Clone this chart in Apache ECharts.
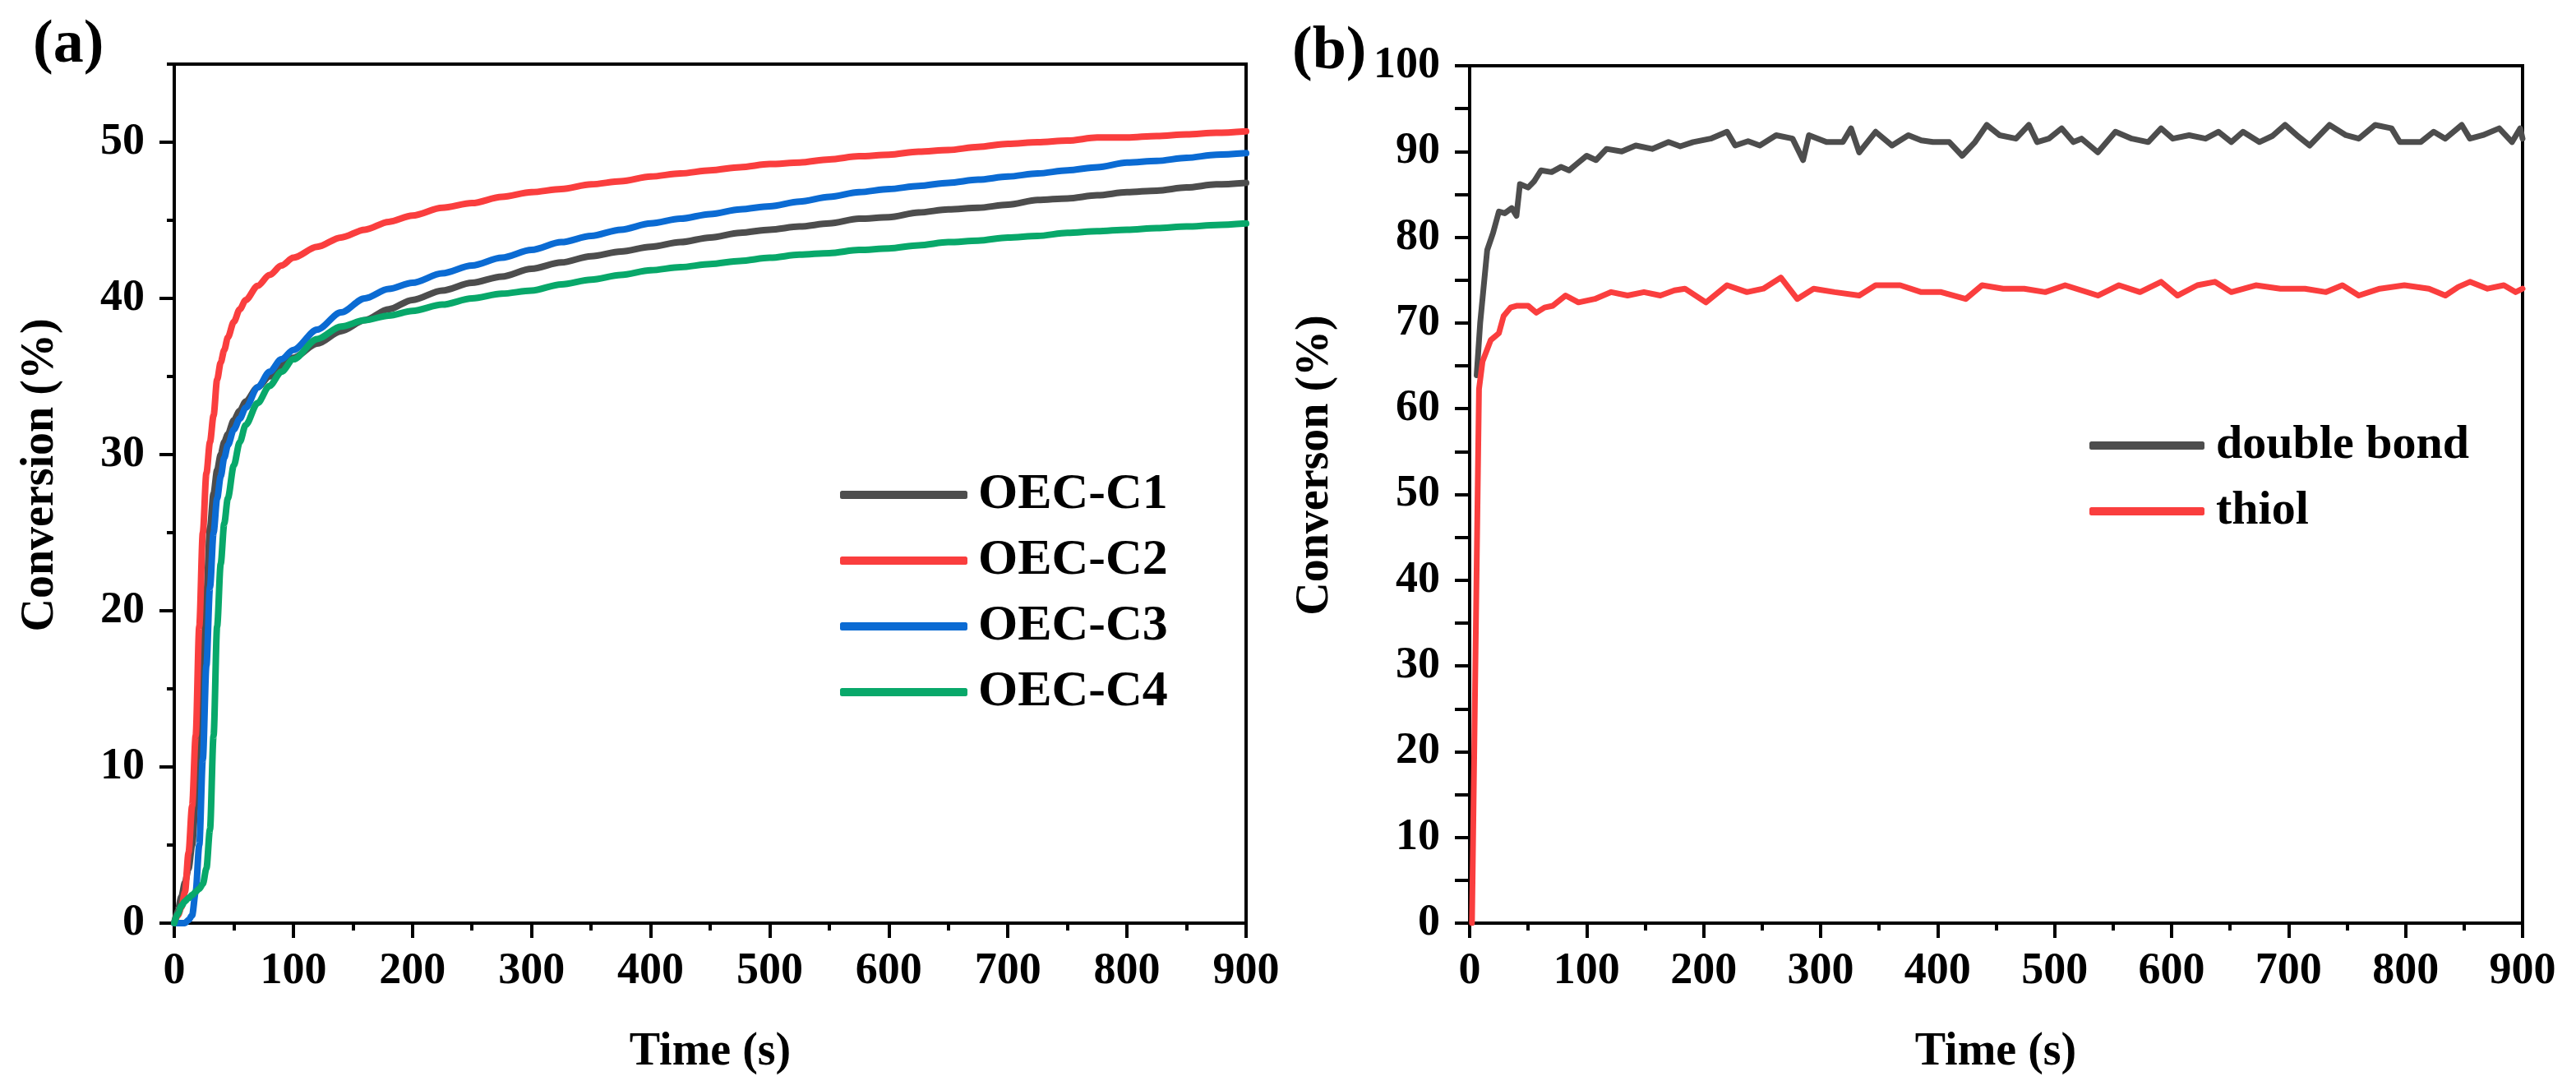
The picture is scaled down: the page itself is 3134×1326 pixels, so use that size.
<!DOCTYPE html>
<html>
<head>
<meta charset="utf-8">
<title>Conversion vs time</title>
<script src="https://cdn.jsdelivr.net/npm/echarts@6/dist/echarts.min.js"></script>
<style>
    html, body { margin: 0; padding: 0; background: #fff; }
    #main { width: 3134px; height: 1326px; }
</style>
</head>
<body>
<div id="main"></div>
<script>
// (a) time points shared by the four OEC curves
var timeA = [0, 3, 6, 9, 12, 15, 18, 21, 24, 27, 30, 33, 36, 39, 42, 45, 50, 55, 60, 70, 80, 90, 100,
    120, 140, 160, 180, 200, 225, 250, 275, 300, 325, 350, 375, 400, 425, 450, 475, 500, 525, 550,
    575, 600, 625, 650, 675, 700, 725, 750, 775, 800, 825, 850, 875, 900];

var oecC1 = [0, 0.8, 1.7, 2.6, 3.5, 5.0, 7.8, 11.5, 16.5, 21.0, 25.3, 27.5, 29.0, 30.0, 30.8, 31.3, 32.2, 32.8, 33.4, 34.3, 35.0, 35.7, 36.2,
    37.1, 37.9, 38.6, 39.3, 39.9, 40.5, 41.0, 41.4, 41.9, 42.3, 42.7, 43.0, 43.3, 43.6, 43.9, 44.2, 44.4, 44.6, 44.8,
    45.1, 45.2, 45.5, 45.7, 45.8, 46.0, 46.3, 46.4, 46.6, 46.8, 46.9, 47.1, 47.3, 47.4];
var oecC2 = [0, 0.5, 1.0, 2.0, 4.5, 7.5, 12.0, 19.0, 25.0, 28.8, 30.8, 32.5, 34.8, 35.9, 36.7, 37.5, 38.5, 39.3, 39.9, 40.8, 41.5, 42.1, 42.6,
    43.3, 43.9, 44.4, 44.9, 45.3, 45.8, 46.1, 46.5, 46.8, 47.0, 47.3, 47.5, 47.8, 48.0, 48.2, 48.4, 48.6, 48.7, 48.9,
    49.1, 49.2, 49.4, 49.5, 49.7, 49.9, 50.0, 50.1, 50.3, 50.3, 50.4, 50.5, 50.6, 50.7];
var oecC3 = [0, 0, 0, 0, 0.2, 0.5, 2.0, 5.0, 10.5, 16.5, 21.5, 25.0, 27.2, 28.6, 29.8, 30.6, 31.6, 32.3, 33.0, 34.3, 35.3, 36.1, 36.7,
    38.0, 39.1, 40.0, 40.6, 41.0, 41.6, 42.1, 42.6, 43.1, 43.6, 44.0, 44.4, 44.8, 45.1, 45.4, 45.7, 45.9, 46.2, 46.5,
    46.8, 47.0, 47.2, 47.4, 47.6, 47.8, 48.0, 48.2, 48.4, 48.7, 48.8, 49.0, 49.2, 49.3];
var oecC4 = [0, 0.6, 1.1, 1.4, 1.6, 1.8, 2.0, 2.2, 2.5, 3.5, 6.0, 12.0, 19.0, 23.0, 25.6, 27.2, 29.3, 30.8, 31.9, 33.3, 34.4, 35.3, 36.1,
    37.4, 38.2, 38.6, 38.9, 39.2, 39.6, 40.0, 40.3, 40.5, 40.9, 41.2, 41.5, 41.8, 42.0, 42.2, 42.4, 42.6, 42.8, 42.9,
    43.1, 43.2, 43.4, 43.6, 43.7, 43.9, 44.0, 44.2, 44.3, 44.4, 44.5, 44.6, 44.7, 44.8];

// (b) double bond and thiol curves
var timeDouble = [6, 9, 15, 20, 25, 30, 36, 40, 43, 50, 55, 61, 70, 78, 85, 92, 100, 108, 117, 130,
    142, 156, 170, 180, 191, 206, 220, 227, 238, 248, 262, 276, 285, 290, 305, 319, 326, 333, 347, 361,
    375, 386, 396, 410, 421, 432, 442, 453, 467, 478, 485, 495, 506, 516, 523, 537, 552, 566, 580, 591,
    601, 615, 629, 640, 651, 661, 675, 686, 697, 707, 718, 735, 749, 760, 774, 788, 795, 813, 824, 834,
    848, 855, 866, 880, 891, 898, 900];
var doubleBond = [63.9, 70.0, 78.5, 80.5, 83.0, 82.8, 83.4, 82.5, 86.2, 85.8, 86.5, 87.8, 87.6, 88.2, 87.8, 88.6, 89.5, 89.0, 90.3, 90.0,
    90.7, 90.3, 91.1, 90.6, 91.1, 91.5, 92.3, 90.7, 91.2, 90.7, 91.9, 91.5, 89.0, 91.9, 91.1, 91.1, 92.7, 89.9, 92.3, 90.7,
    91.9, 91.3, 91.1, 91.1, 89.5, 91.1, 93.1, 91.9, 91.5, 93.1, 91.1, 91.5, 92.7, 91.1, 91.5, 89.9, 92.3, 91.5, 91.1, 92.7,
    91.5, 91.9, 91.5, 92.3, 91.1, 92.3, 91.1, 91.8, 93.1, 91.9, 90.7, 93.1, 91.9, 91.5, 93.1, 92.7, 91.1, 91.1, 92.3, 91.5,
    93.1, 91.5, 91.9, 92.7, 91.1, 92.7, 91.5];

var timeThiol = [2, 8, 11, 18, 25, 29, 35, 40, 50, 57, 64, 71, 82, 93, 107, 121, 135, 149, 163, 175,
    184, 202, 220, 237, 251, 266, 280, 294, 312, 333, 347, 368, 386, 403, 424, 438, 456, 474, 492, 509,
    523, 537, 555, 573, 591, 605, 622, 637, 651, 672, 693, 714, 732, 746, 760, 778, 799, 820, 834, 845,
    855, 870, 884, 894, 900];
var thiol = [0, 62.3, 65.5, 68.0, 68.8, 70.8, 71.8, 72.0, 72.0, 71.2, 71.8, 72.0, 73.2, 72.4, 72.8, 73.6, 73.2, 73.6, 73.2, 73.8,
    74.0, 72.4, 74.4, 73.6, 74.0, 75.3, 72.8, 74.0, 73.6, 73.2, 74.4, 74.4, 73.6, 73.6, 72.8, 74.4, 74.0, 74.0, 73.6, 74.4,
    73.8, 73.2, 74.4, 73.6, 74.8, 73.2, 74.4, 74.8, 73.6, 74.4, 74.0, 74.0, 73.6, 74.4, 73.2, 74.0, 74.4, 74.0, 73.2, 74.2,
    74.8, 74.0, 74.4, 73.6, 74.0];

// tick labels
var yTicksA = [0, 10, 20, 30, 40, 50];
var namesA = ['OEC-C1', 'OEC-C2', 'OEC-C3', 'OEC-C4'];
var namesB = ['double bond', 'thiol'];

var FONT = "'Liberation Serif', 'Times New Roman', serif";

function pairs(xs, ys) {
    var out = [];
    for (var i = 0; i < xs.length; i++) {
        out.push([xs[i], ys[i]]);
    }
    return out;
}

function xAxisFor(gi) {
    return {
        gridIndex: gi,
        type: 'value',
        min: 0,
        max: 900,
        interval: 100,
        axisLine: { show: true, onZero: false, lineStyle: { color: '#000', width: 4 } },
        axisTick: { show: true, length: 18, lineStyle: { color: '#000', width: 4 } },
        minorTick: { show: true, splitNumber: 2, length: 9, lineStyle: { color: '#000', width: 4 } },
        axisLabel: { margin: 32, fontFamily: FONT, fontWeight: 'bold', fontSize: 54, color: '#000' },
        splitLine: { show: false }
    };
}

function lineSeries(name, xi, yi, data, color, width, smooth) {
    return {
        name: name,
        type: 'line',
        xAxisIndex: xi,
        yAxisIndex: yi,
        data: data,
        color: color,
        symbol: 'none',
        showSymbol: false,
        smooth: smooth,
        smoothMonotone: 'x',
        lineStyle: { width: width, color: color, cap: 'round', join: 'round' }
    };
}

// axis titles as plain text elements
function axisTitle(text, x, y, rot) {
    return {
        type: 'text',
        x: x,
        y: y,
        rotation: rot,
        style: {
            text: text,
            fontFamily: FONT,
            fontWeight: 'bold',
            fontSize: 56,
            fill: '#000',
            align: 'center',
            verticalAlign: 'middle',
            textAlign: 'center',
            textVerticalAlign: 'middle'
        }
    };
}

var chart = echarts.init(document.getElementById('main'));

var option = {
    animation: false,
    backgroundColor: '#fff',
    title: [
        { text: '(a)', left: 35, top: 14, textStyle: { fontFamily: FONT, fontWeight: 'bold', fontSize: 74, color: '#000' } },
        { text: '(b)', left: 1567, top: 22, textStyle: { fontFamily: FONT, fontWeight: 'bold', fontSize: 74, color: '#000' } }
    ],
    graphic: [
        axisTitle('Conversion (%)', 50, 578, Math.PI / 2),
        axisTitle('Converson (%)', 1601, 566, Math.PI / 2),
        axisTitle('Time (s)', 864, 1281, 0),
        axisTitle('Time (s)', 2428, 1281, 0)
    ],
    grid: [
        { left: 212, right: 1618, top: 78, bottom: 203, show: true, borderColor: '#000', borderWidth: 4, backgroundColor: 'transparent' },
        { left: 1788, right: 65, top: 80, bottom: 203, show: true, borderColor: '#000', borderWidth: 4, backgroundColor: 'transparent' }
    ],
    legend: [
        {
            data: namesA,
            orient: 'vertical',
            left: 1017,
            top: 562,
            icon: 'roundRect',
            itemWidth: 155,
            itemHeight: 10,
            itemGap: 10,
            textStyle: { fontFamily: FONT, fontWeight: 'bold', fontSize: 62, lineHeight: 70, color: '#000', padding: [0, 0, 0, 8] }
        },
        {
            data: namesB,
            orient: 'vertical',
            left: 2537,
            top: 502,
            icon: 'roundRect',
            itemWidth: 140,
            itemHeight: 10,
            itemGap: 10,
            textStyle: { fontFamily: FONT, fontWeight: 'bold', fontSize: 58, lineHeight: 70, color: '#000', padding: [0, 0, 0, 9] }
        }
    ],
    xAxis: [xAxisFor(0), xAxisFor(1)],
    yAxis: [
        {
            gridIndex: 0,
            type: 'value',
            position: 'left',
            min: 0,
            max: 55,
            interval: 5,
            axisLine: { show: true, lineStyle: { color: '#000', width: 4 } },
            axisTick: { show: true, length: 9, lineStyle: { color: '#000', width: 4 } },
            axisLabel: {
                margin: 36, fontFamily: FONT, fontWeight: 'bold', fontSize: 54, color: '#000',
                formatter: function (v) { return yTicksA.indexOf(v) >= 0 ? String(v) : ''; }
            },
            splitLine: { show: false }
        },
        {
            // longer ticks at the labelled values
            gridIndex: 0,
            type: 'value',
            position: 'left',
            min: 0,
            max: 55,
            interval: 10,
            axisLine: { show: false },
            axisTick: { show: true, length: 18, customValues: yTicksA, lineStyle: { color: '#000', width: 4 } },
            axisLabel: { show: false },
            splitLine: { show: false }
        },
        {
            gridIndex: 1,
            type: 'value',
            position: 'left',
            min: 0,
            max: 100,
            interval: 10,
            axisLine: { show: true, lineStyle: { color: '#000', width: 4 } },
            axisTick: { show: true, length: 18, lineStyle: { color: '#000', width: 4 } },
            minorTick: { show: true, splitNumber: 2, length: 18, lineStyle: { color: '#000', width: 4 } },
            axisLabel: { margin: 36, fontFamily: FONT, fontWeight: 'bold', fontSize: 54, color: '#000' },
            splitLine: { show: false }
        }
    ],
    series: [
        lineSeries(namesA[0], 0, 0, pairs(timeA, oecC1), '#4d4d4d', 8, 0.3),
        lineSeries(namesA[1], 0, 0, pairs(timeA, oecC2), '#fa3e3e', 8, 0.3),
        lineSeries(namesA[2], 0, 0, pairs(timeA, oecC3), '#0b6bd3', 8, 0.3),
        lineSeries(namesA[3], 0, 0, pairs(timeA, oecC4), '#08a86a', 8, 0.3),
        lineSeries(namesB[0], 1, 2, pairs(timeDouble, doubleBond), '#4d4d4d', 7, false),
        lineSeries(namesB[1], 1, 2, pairs(timeThiol, thiol), '#fa3e3e', 7, false)
    ]
};

chart.setOption(option);
</script>
</body>
</html>
